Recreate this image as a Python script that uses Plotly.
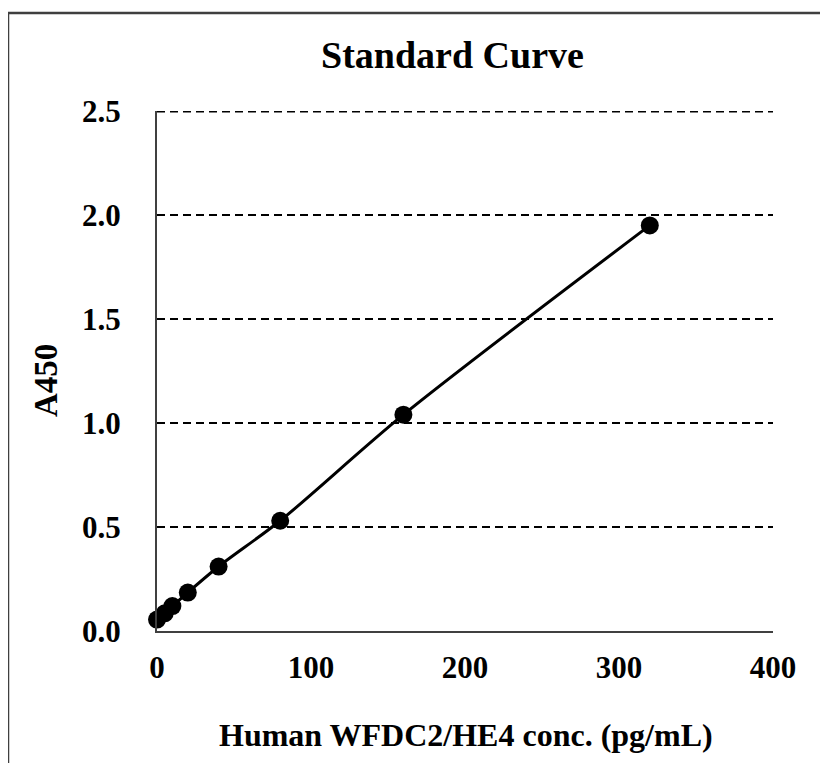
import plotly.graph_objects as go

# Data
conc = [0, 5, 10, 20, 40, 80, 160, 320]
a450 = [0.055, 0.085, 0.12, 0.185, 0.31, 0.53, 1.04, 1.95]
x_ticks = [0, 100, 200, 300, 400]
y_ticks = [0.0, 0.5, 1.0, 1.5, 2.0, 2.5]
y_tick_text = ["0.0", "0.5", "1.0", "1.5", "2.0", "2.5"]

# page body has an 8px margin; work in reference-pixel coordinates
OFF = 8
W, H = 828 - OFF, 763 - OFF
L, T = 157 - OFF, 111 - OFF
pw, ph = 616, 520
R = W - L - pw
B = H - T - ph

FONT = "Liberation Serif, Times New Roman, serif"

fig = go.Figure()
fig.add_trace(go.Scatter(
    x=conc, y=a450, mode="lines+markers",
    line=dict(color="black", width=3, shape="spline", smoothing=0.8),
    marker=dict(color="black", size=18),
    cliponaxis=False, showlegend=False,
))

def px_x(p):
    return (p - OFF - L) / pw

def px_y(p):
    return (H - B - (p - OFF)) / ph

fig.update_layout(
    width=W, height=H,
    margin=dict(l=L, r=R, t=T, b=B),
    paper_bgcolor="white", plot_bgcolor="white",
    font=dict(family=FONT, color="black", size=30, weight="bold"),
    xaxis=dict(
        range=[x_ticks[0], x_ticks[-1]], tickvals=x_ticks, showgrid=False,
        zeroline=False, showline=True, linecolor="#404040", linewidth=2,
        ticks="", ticklabelstandoff=8,
        tickfont=dict(family=FONT, size=31, weight="bold", color="black"),
    ),
    yaxis=dict(
        range=[y_ticks[0], y_ticks[-1]], tickvals=y_ticks, ticktext=y_tick_text,
        showgrid=True, gridcolor="black", gridwidth=1.5, griddash="8px,5px",
        zeroline=False, showline=True, linecolor="#404040", linewidth=2,
        ticks="", ticklabelstandoff=28,
        tickfont=dict(family=FONT, size=31, weight="bold", color="black"),
    ),
    annotations=[
        dict(text="Standard Curve", xref="paper", yref="paper",
             x=px_x(452), y=px_y(55), xanchor="center", yanchor="middle",
             showarrow=False, font=dict(family=FONT, size=38, weight="bold")),
        dict(text="Human WFDC2/HE4 conc. (pg/mL)", xref="paper", yref="paper",
             x=px_x(466), y=px_y(735), xanchor="center", yanchor="middle",
             showarrow=False, font=dict(family=FONT, size=32, weight="bold")),
        dict(text="A450", xref="paper", yref="paper", textangle=-90,
             x=px_x(46), y=px_y(381), xanchor="center", yanchor="middle",
             showarrow=False, font=dict(family=FONT, size=33, weight="bold")),
    ],
    shapes=[
        # top gridline at the edge of the range (plotly omits it; half is clipped)
        dict(type="line", xref="x", yref="y",
             x0=x_ticks[0], x1=x_ticks[-1], y0=y_ticks[-1], y1=y_ticks[-1],
             line=dict(color="black", width=3, dash="8px,5px"), layer="below"),
        # chart-area frame (left and top edges visible)
        dict(type="line", xref="paper", yref="paper",
             x0=px_x(8), x1=px_x(8), y0=px_y(13), y1=px_y(H + 40),
             line=dict(color="#3f3f3f", width=2.5)),
        dict(type="line", xref="paper", yref="paper",
             x0=px_x(8), x1=px_x(W + 40), y0=px_y(13), y1=px_y(13),
             line=dict(color="#3f3f3f", width=2.5)),
    ],
)

fig.write_html("out.html")
